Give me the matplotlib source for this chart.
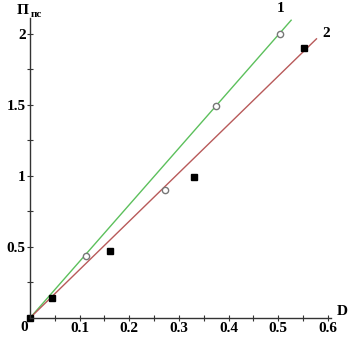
import matplotlib.pyplot as plt
import numpy as np

# экспериментальные точки
d_circ = [0.113, 0.272, 0.374, 0.503]
p_circ = [0.437, 0.90, 1.49, 2.0]
d_sq = [0.0, 0.045, 0.161, 0.33, 0.551]
p_sq = [0.0, 0.143, 0.474, 0.99, 1.90]

# прямые 1 и 2
d_line1 = [0.0, 0.526]
p_line1 = [0.0, 2.094]
d_line2 = [0.0, 0.577]
p_line2 = [0.0, 1.963]

xticks = [0.1, 0.2, 0.3, 0.4, 0.5, 0.6]
yticks = [0.5, 1.0, 1.5, 2.0]

plt.rcParams['font.family'] = ['Liberation Serif', 'DejaVu Serif']
plt.rcParams['font.weight'] = 'bold'

fig = plt.figure(figsize=(3.52, 3.41), dpi=100)
ax = fig.add_axes([0.085, 0.0674, 0.855, 0.88])

ax.plot(d_line1, p_line1, color='#5cc05c', lw=1.0, clip_on=False)
ax.plot(d_line2, p_line2, color='#b85a5a', lw=1.0, clip_on=False)
ax.plot(d_circ, p_circ, 'o', ms=4.5, mfc='white', mec='#777777', mew=1.0, clip_on=False)
ax.plot(d_sq, p_sq, 's', ms=5, color='black', clip_on=False)

ax.set_xlim(0, 0.606)
ax.set_ylim(0, 2.11)
for s in ['top', 'right']:
    ax.spines[s].set_visible(False)
for s in ['left', 'bottom']:
    ax.spines[s].set_linewidth(1.0)
    ax.spines[s].set_color('#333333')

ax.set_xticks(xticks)
ax.set_xticklabels(['0.1', '0.2', '0.3', '0.4', '0.5', '0.6'])
ax.set_yticks(yticks)
ax.set_yticklabels(['0.5', '1', '1.5', '2'])
ax.set_xticks(np.arange(0.05, 0.6, 0.1), minor=True)
ax.set_yticks([0.25, 0.75, 1.25, 1.75], minor=True)
ax.tick_params(which='both', direction='inout', length=4, width=0.8, color='#333333',
               labelsize=11, pad=1)

ax.text(-0.004, -0.02, '0', ha='right', va='top', fontsize=11)
ax.text(0.617, 0.0, 'D', ha='left', va='bottom', fontsize=11)
ax.text(-0.026, 2.16, 'Π', ha='left', va='center', fontsize=11, clip_on=False)
ax.text(0.001, 2.135, 'пс', ha='left', va='center', fontsize=8, clip_on=False)
ax.text(0.505, 2.175, '1', ha='center', va='center', fontsize=11, clip_on=False)
ax.text(0.596, 2.0, '2', ha='center', va='center', fontsize=11, clip_on=False)

plt.savefig('out.png', dpi=100)
